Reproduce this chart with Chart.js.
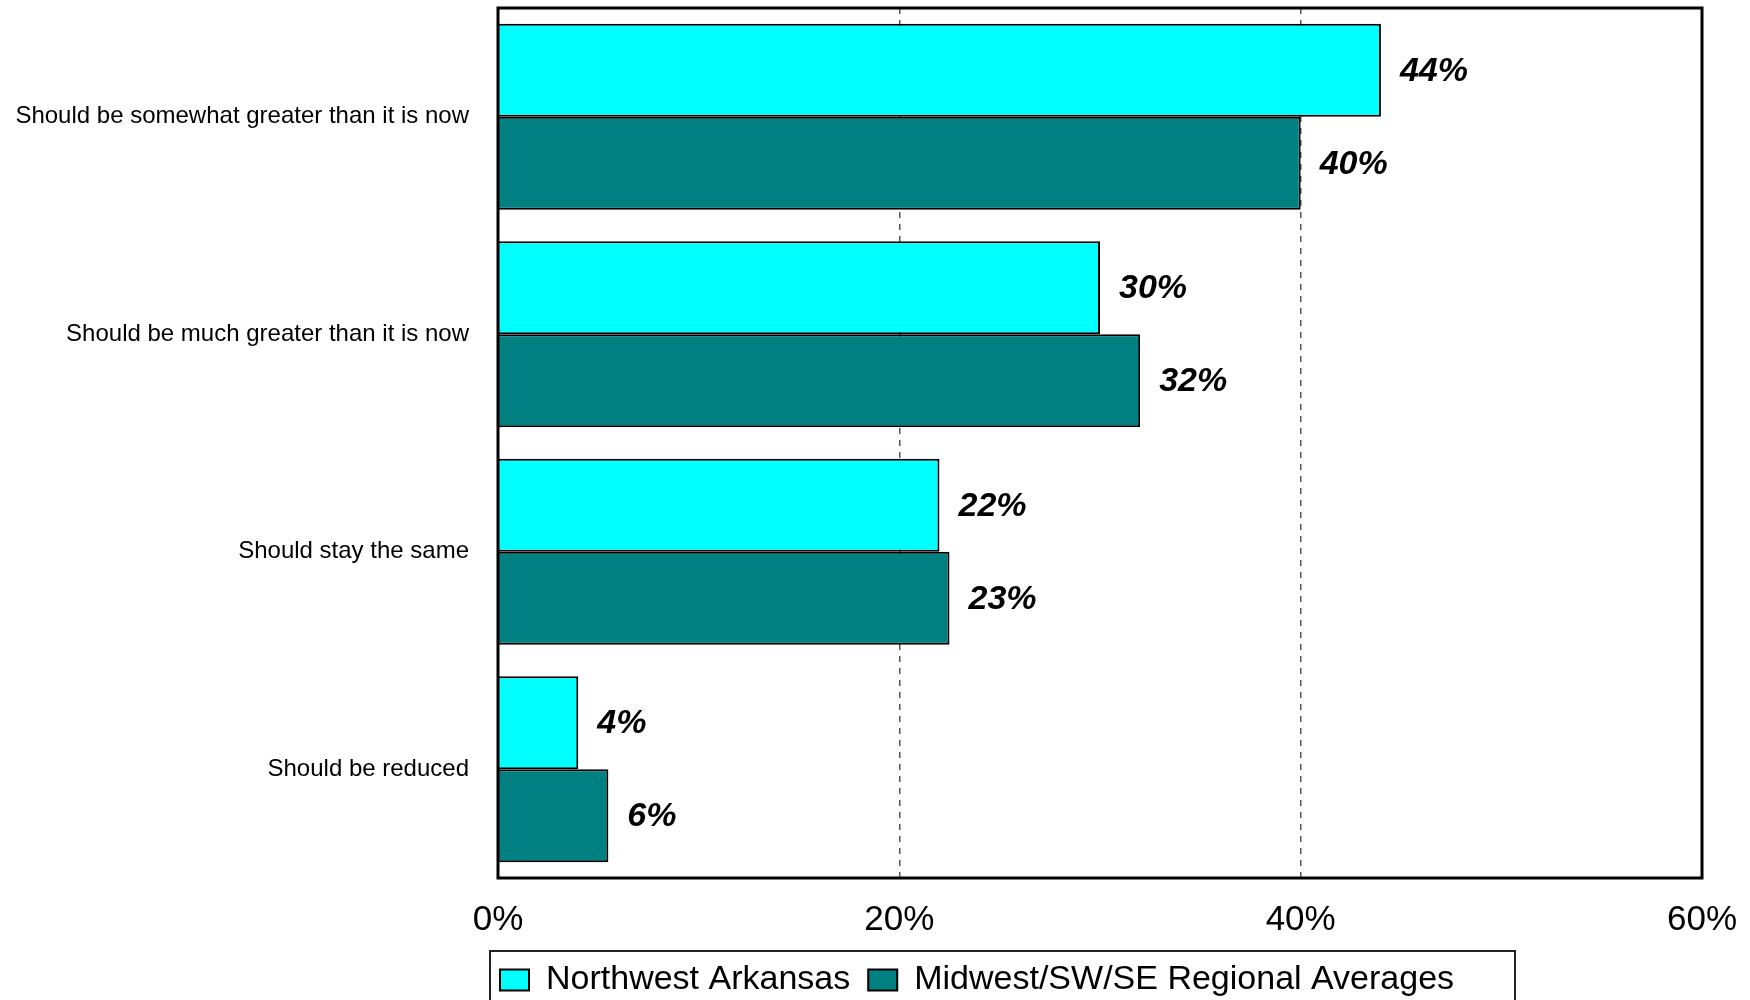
<!DOCTYPE html>
<html>
<head>
<meta charset="utf-8">
<script src="https://cdn.jsdelivr.net/npm/chart.js@4.4.1/dist/chart.umd.min.js"></script>
<style>
  html, body { margin: 0; padding: 0; background: #fff; }
  #wrap { width: 1750px; height: 1000px; }
</style>
</head>
<body>
<div id="wrap"><canvas id="chart"></canvas></div>
<script>
// --- data ---
const categorias = [
  'Should be somewhat greater than it is now',
  'Should be much greater than it is now',
  'Should stay the same',
  'Should be reduced'
];
const nwArkansas = [44, 30, 22, 4];
const regional = [40, 32, 22.5, 5.5];
const serieNombres = ['Northwest Arkansas', 'Midwest/SW/SE Regional Averages'];
const xTicks = [0, 20, 40, 60];

const FONT = '"Liberation Sans", Arial, sans-serif';

// marco negro del area de grafica
const marco = {
  id: 'marco',
  afterDatasetsDraw(chart) {
    const { ctx, chartArea: a } = chart;
    ctx.save();
    ctx.lineWidth = 3;
    ctx.strokeStyle = '#000';
    ctx.strokeRect(a.left, a.top, a.right - a.left, a.bottom - a.top);
    ctx.restore();
  }
};

// etiquetas de valor al final de cada barra
const etiquetas = {
  id: 'etiquetas',
  afterDatasetsDraw(chart) {
    const { ctx } = chart;
    ctx.save();
    ctx.font = 'italic bold 34px ' + FONT;
    ctx.fillStyle = '#000';
    ctx.textAlign = 'left';
    ctx.textBaseline = 'middle';
    chart.data.datasets.forEach((ds, i) => {
      chart.getDatasetMeta(i).data.forEach((bar, j) => {
        ctx.fillText(Math.round(ds.data[j]) + '%', bar.x + 19, bar.y + 1);
      });
    });
    ctx.restore();
  }
};

// leyenda desplazada y con caja
const cajaLeyenda = {
  id: 'cajaLeyenda',
  afterLayout(chart) {
    const lg = chart.legend;
    if (!lg) return;
    lg.left = 482;
    lg.top = 945;
  },
  afterDraw(chart) {
    const { ctx } = chart;
    ctx.save();
    ctx.lineWidth = 2;
    ctx.strokeStyle = '#222';
    ctx.strokeRect(490, 951, 1025, 80);
    ctx.restore();
  }
};

new Chart(document.getElementById('chart'), {
  type: 'bar',
  data: {
    labels: categorias,
    datasets: [
      { label: serieNombres[0], data: nwArkansas, backgroundColor: '#00FFFF', borderColor: '#000', borderWidth: 2 },
      { label: serieNombres[1], data: regional, backgroundColor: '#008080', borderColor: '#000', borderWidth: 2 }
    ]
  },
  options: {
    indexAxis: 'y',
    responsive: true,
    maintainAspectRatio: false,
    animation: false,
    categoryPercentage: 0.855,
    barPercentage: 1.0,
    layout: { padding: { top: 8, left: 0, right: 48, bottom: -24 } },
    scales: {
      x: {
        min: 0,
        max: 60,
        afterBuildTicks(scale) { scale.ticks = xTicks.map(v => ({ value: v })); },
        afterFit(scale) { scale.paddingLeft = 0; scale.paddingRight = 0; },
        ticks: {
          padding: 21,
          color: '#000',
          font: { family: FONT, size: 35 },
          callback: v => v + '%'
        },
        grid: { color: '#555', lineWidth: 1.5, drawTicks: false },
        border: { display: false, dash: [6, 6] }
      },
      y: {
        afterFit(scale) { scale.width = 498; scale.paddingTop = 0; scale.paddingBottom = 0; },
        ticks: {
          padding: 29,
          color: '#000',
          font: { family: FONT, size: 24 }
        },
        grid: { display: false, drawTicks: false },
        border: { display: false }
      }
    },
    plugins: {
      legend: {
        position: 'bottom',
        align: 'start',
        labels: {
          color: '#000',
          font: { family: FONT, size: 34 },
          boxWidth: 29,
          boxHeight: 21,
          padding: 18
        }
      },
      tooltip: { enabled: false }
    }
  },
  plugins: [marco, etiquetas, cajaLeyenda]
});
</script>
</body>
</html>
